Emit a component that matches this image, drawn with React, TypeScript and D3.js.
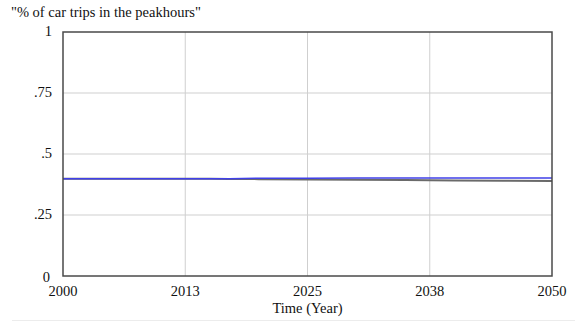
import React from "react";
import * as d3 from "d3";

const W = 575;
const H = 325;

const years = [2000, 2005, 2010, 2015, 2017, 2020, 2025, 2030, 2035, 2040, 2045, 2050];
const seriesBlue = [0.399, 0.399, 0.399, 0.399, 0.399, 0.4005, 0.401, 0.4015, 0.402, 0.402, 0.402, 0.402];
const seriesGray = [0.399, 0.399, 0.399, 0.399, 0.398, 0.397, 0.395, 0.394, 0.393, 0.391, 0.39, 0.389];

const xTicks = [2000, 2012.5, 2025, 2037.5, 2050];
const xTickLabels = ["2000", "2013", "2025", "2038", "2050"];
const yTicks = [0, 0.25, 0.5, 0.75, 1];
const yTickLabels = ["0", ".25", ".5", ".75", "1"];

const yTitle = "\"% of car trips in the peakhours\"";
const xTitle = "Time (Year)";

const M = { left: 63, top: 32, right: 552, bottom: 276 };
const FONT = "Liberation Serif, Times New Roman, DejaVu Serif, serif";
const textStyle = { fontFamily: FONT, fontSize: "14.5px" };

export default function App() {
  const x = d3.scaleLinear().domain([2000, 2050]).range([M.left, M.right]);
  const y = d3.scaleLinear().domain([0, 1]).range([M.bottom, M.top]);
  const line = d3
    .line<number>()
    .x((_, i) => x(years[i]))
    .y((d) => y(d));

  return (
    <svg
      width={W}
      height={H}
      style={{ position: "absolute", left: 0, top: 0, background: "#fff" }}
    >
      <rect x={0} y={0} width={W} height={H} fill="#fff" />
      {xTicks.slice(1, -1).map((t) => (
        <line key={"gx" + t} x1={x(t)} x2={x(t)} y1={M.top} y2={M.bottom} stroke="#cfcfcf" strokeWidth={1} />
      ))}
      {yTicks.slice(1, -1).map((t) => (
        <line key={"gy" + t} x1={M.left} x2={M.right} y1={y(t)} y2={y(t)} stroke="#cfcfcf" strokeWidth={1} />
      ))}
      <path d={line(seriesGray) || ""} fill="none" stroke="#6a6a6a" strokeWidth={2} />
      <path d={line(seriesBlue) || ""} fill="none" stroke="#4040e8" strokeWidth={1.5} />
      <rect
        x={M.left}
        y={M.top}
        width={M.right - M.left}
        height={M.bottom - M.top}
        fill="none"
        stroke="#4a4a4a"
        strokeWidth={1.5}
      />
      {yTicks.map((t, i) => (
        <text
          key={"yl" + t}
          x={t === 0 ? 50 : 52}
          y={y(t) + (t === 0 ? 3 : 1)}
          textAnchor="end"
          dominantBaseline="middle"
          style={textStyle}
          fill="#111"
        >
          {yTickLabels[i]}
        </text>
      ))}
      {xTicks.map((t, i) => (
        <text
          key={"xl" + t}
          x={x(t)}
          y={293}
          textAnchor="middle"
          dominantBaseline="middle"
          style={textStyle}
          fill="#111"
        >
          {xTickLabels[i]}
        </text>
      ))}
      <text x={x(2025)} y={310} textAnchor="middle" dominantBaseline="middle" style={textStyle} fill="#111">
        {xTitle}
      </text>
      <text x={11} y={14} dominantBaseline="middle" style={textStyle} fill="#111">
        {yTitle}
      </text>
      <line x1={12} x2={W} y1={320.5} y2={320.5} stroke="#ececec" strokeWidth={1} />
    </svg>
  );
}
